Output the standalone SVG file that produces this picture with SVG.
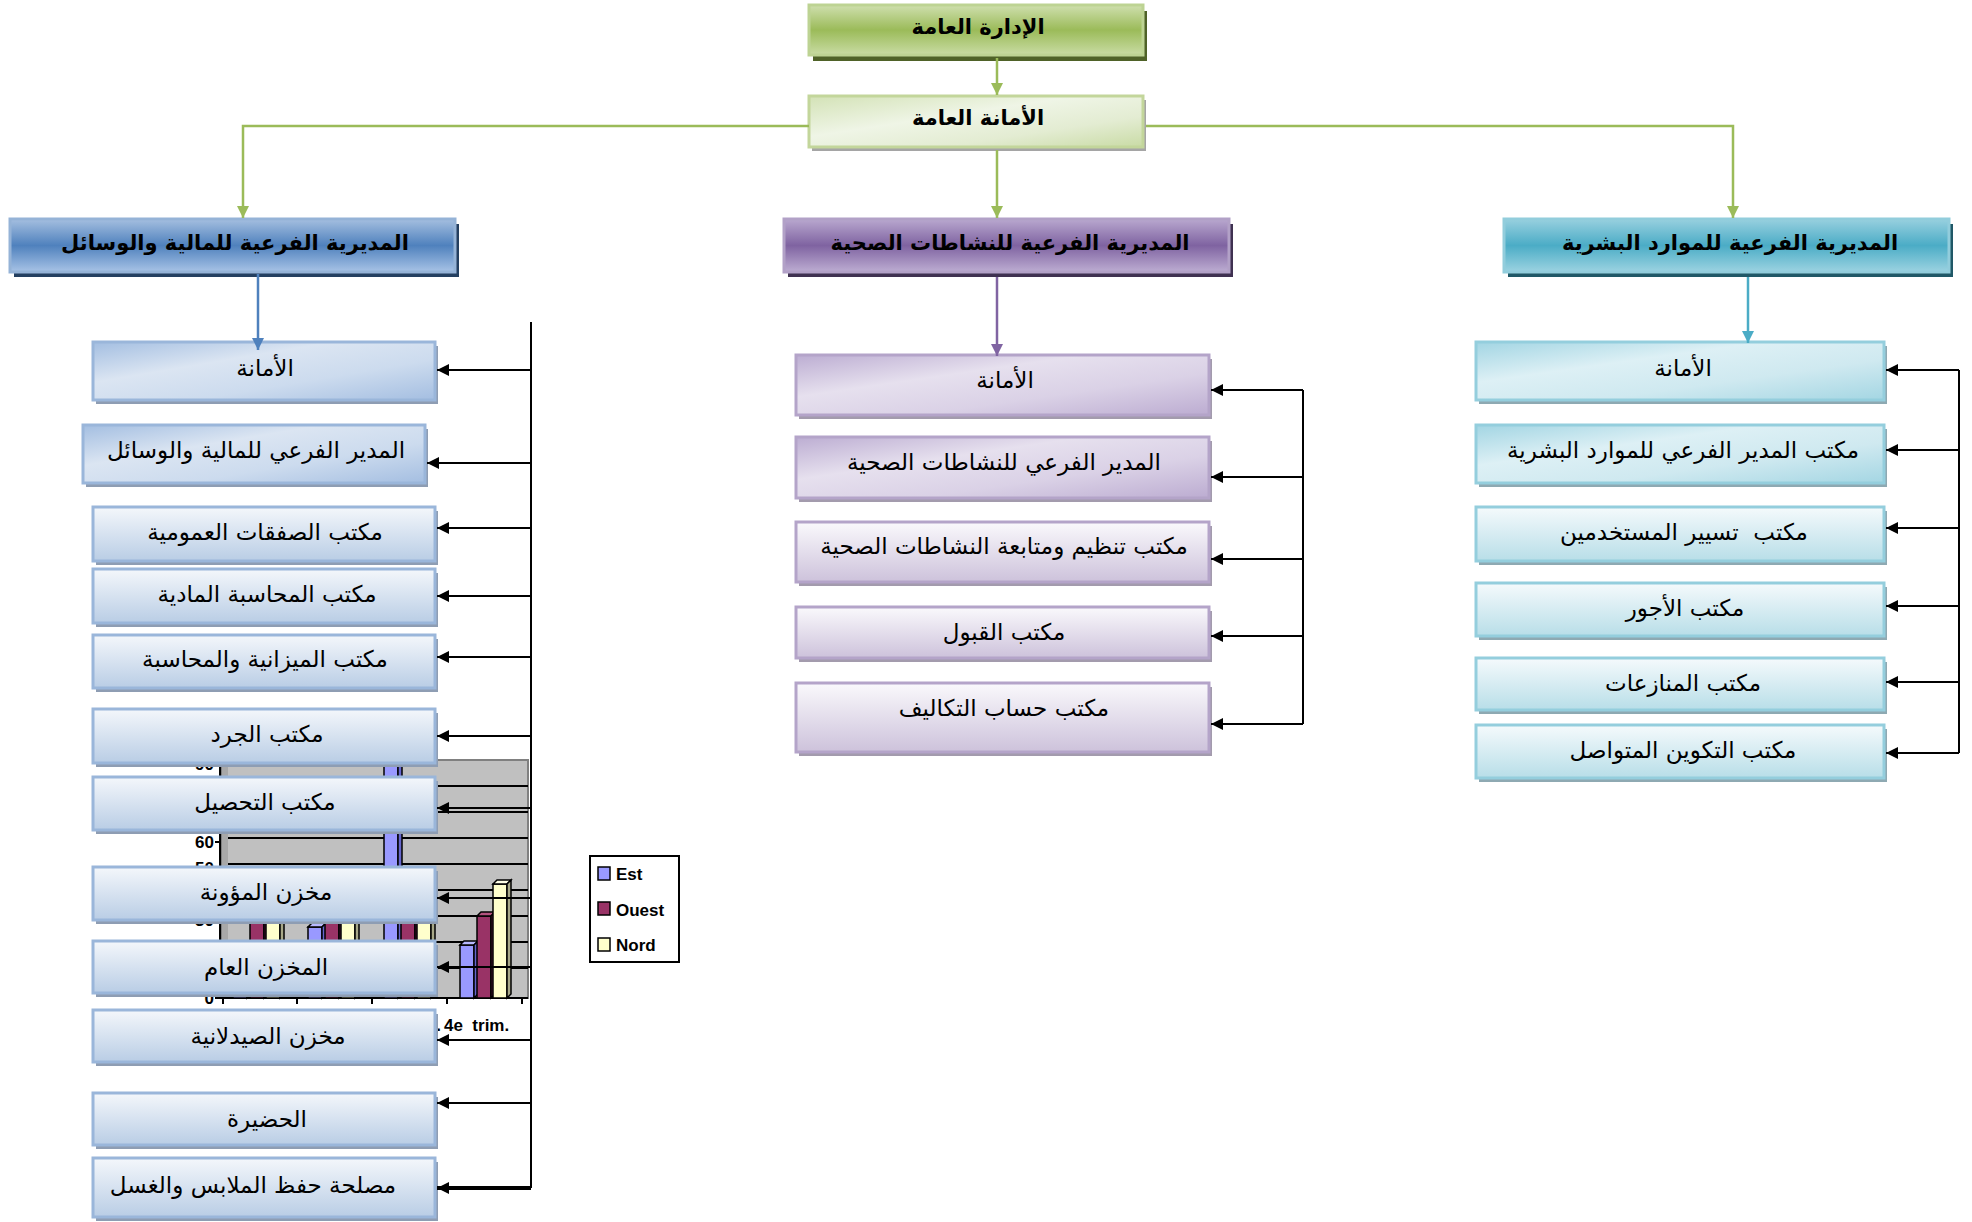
<svg xmlns="http://www.w3.org/2000/svg" width="1972" height="1222" viewBox="0 0 1972 1222">
<defs>
<linearGradient id="gGreenTop" x1="0" y1="0" x2="0" y2="1"><stop offset="0" stop-color="#CFDFAE"/><stop offset="0.5" stop-color="#9BBB59"/><stop offset="1" stop-color="#C9DCA4"/></linearGradient>
<linearGradient id="gGreen2" x1="0" y1="0" x2="1" y2="1"><stop offset="0" stop-color="#D3E2B6"/><stop offset="0.4" stop-color="#EFF5E6"/><stop offset="0.7" stop-color="#E3ECD2"/><stop offset="1" stop-color="#C9DBA5"/></linearGradient>
<linearGradient id="gBlueH" x1="0" y1="0" x2="0" y2="1"><stop offset="0" stop-color="#A5BFE0"/><stop offset="0.5" stop-color="#4F81BD"/><stop offset="1" stop-color="#A8C3E6"/></linearGradient>
<linearGradient id="gPurpH" x1="0" y1="0" x2="0" y2="1"><stop offset="0" stop-color="#B9A8CF"/><stop offset="0.5" stop-color="#7F63A1"/><stop offset="1" stop-color="#BDADD2"/></linearGradient>
<linearGradient id="gTealH" x1="0" y1="0" x2="0" y2="1"><stop offset="0" stop-color="#98D0DF"/><stop offset="0.5" stop-color="#4BACC6"/><stop offset="1" stop-color="#9CD3E1"/></linearGradient>
<linearGradient id="gBlueD" x1="0" y1="0" x2="1" y2="1"><stop offset="0" stop-color="#A3BEE1"/><stop offset="0.35" stop-color="#DBE5F2"/><stop offset="0.65" stop-color="#CCDBEE"/><stop offset="1" stop-color="#A4BEE1"/></linearGradient>
<linearGradient id="gBlueV" x1="0" y1="0" x2="0" y2="1"><stop offset="0" stop-color="#F4F7FB"/><stop offset="1" stop-color="#B9CDE5"/></linearGradient>
<linearGradient id="gPurpD" x1="0" y1="0" x2="1" y2="1"><stop offset="0" stop-color="#BCADD2"/><stop offset="0.35" stop-color="#E6E0EE"/><stop offset="0.65" stop-color="#DAD1E6"/><stop offset="1" stop-color="#BCACD1"/></linearGradient>
<linearGradient id="gPurpV" x1="0" y1="0" x2="0" y2="1"><stop offset="0" stop-color="#FAF9FC"/><stop offset="1" stop-color="#CDC2DB"/></linearGradient>
<linearGradient id="gTealD" x1="0" y1="0" x2="1" y2="1"><stop offset="0" stop-color="#A2D5E3"/><stop offset="0.35" stop-color="#DDF0F5"/><stop offset="0.65" stop-color="#CFE9F0"/><stop offset="1" stop-color="#A4D6E3"/></linearGradient>
<linearGradient id="gTealV" x1="0" y1="0" x2="0" y2="1"><stop offset="0" stop-color="#F5FAFC"/><stop offset="1" stop-color="#B8DEE8"/></linearGradient>
<marker id="aK" markerUnits="userSpaceOnUse" markerWidth="12" markerHeight="12" refX="12" refY="6" orient="auto"><path d="M0,0 L12,6 L0,12 Z" fill="#000"/></marker>
<marker id="aG" markerUnits="userSpaceOnUse" markerWidth="12" markerHeight="12" refX="12" refY="6" orient="auto"><path d="M0,0 L12,6 L0,12 Z" fill="#9BBB59"/></marker>
<marker id="aB" markerUnits="userSpaceOnUse" markerWidth="12" markerHeight="12" refX="12" refY="6" orient="auto"><path d="M0,0 L12,6 L0,12 Z" fill="#4F81BD"/></marker>
<marker id="aP" markerUnits="userSpaceOnUse" markerWidth="12" markerHeight="12" refX="12" refY="6" orient="auto"><path d="M0,0 L12,6 L0,12 Z" fill="#8064A2"/></marker>
<marker id="aT" markerUnits="userSpaceOnUse" markerWidth="12" markerHeight="12" refX="12" refY="6" orient="auto"><path d="M0,0 L12,6 L0,12 Z" fill="#4BACC6"/></marker>
</defs>
<style>
.t{font-family:'DejaVu Sans',sans-serif;font-size:23px;fill:#000;text-anchor:middle;dominant-baseline:central}
.h{font-weight:bold;font-size:21px}
.c{font-family:'Liberation Sans',Arial,sans-serif;font-weight:bold;font-size:17px;fill:#000}
.k{stroke:#000;stroke-width:2;fill:none}
.bx{stroke-width:3}
.sb{fill:#8E9DB3}.sp{fill:#A39BAD}.st{fill:#8EA9B2}
.cb{stroke:#9AB6DA}.cp{stroke:#B4A4C9}.ct{stroke:#94CEDD}
.bar{stroke:#000;stroke-width:1.5}
</style>
<rect width="1972" height="1222" fill="#fff"/>

<g id="chart">
<rect x="222" y="760" width="306" height="238" fill="#C0C0C0" stroke="#808080" stroke-width="2"/>
<rect x="222" y="760" width="6" height="238" fill="#A8A8A8"/>
<g class="k">
<path d="M228,968H528M228,942H528M228,916H528M228,890H528M228,864H528M228,838H528M228,812H528M228,786H528"/>
<path d="M220,760V998H528"/>
<path d="M215,998H220M215,972H220M215,946H220M215,920H220M215,894H220M215,868H220M215,842H220M215,816H220M215,790H220M215,764H220"/>
<path d="M223,998V1004M297,998V1004M372,998V1004M447,998V1004M522,998V1004"/>
</g>
<g class="bar">
<rect x="233" y="945" width="14" height="53" fill="#9999FF"/><polygon points="233,945 237,941 251,941 247,945" fill="#B8B8FF"/><polygon points="247,945 251,941 251,994 247,998" fill="#6666CC"/>
<rect x="250" y="918" width="14" height="80" fill="#993366"/><polygon points="250,918 254,914 268,914 264,918" fill="#B3527F"/><polygon points="264,918 268,914 268,994 264,998" fill="#661F44"/>
<rect x="266" y="879" width="14" height="119" fill="#FFFFCC"/><polygon points="266,879 270,875 284,875 280,879" fill="#FFFFE6"/><polygon points="280,879 284,875 284,994 280,998" fill="#A8A888"/>
<rect x="308" y="927" width="14" height="71" fill="#9999FF"/><polygon points="308,927 312,923 326,923 322,927" fill="#B8B8FF"/><polygon points="322,927 326,923 326,994 322,998" fill="#6666CC"/>
<rect x="325" y="898" width="14" height="100" fill="#993366"/><polygon points="325,898 329,894 343,894 339,898" fill="#B3527F"/><polygon points="339,898 343,894 343,994 339,998" fill="#661F44"/>
<rect x="341" y="876" width="14" height="122" fill="#FFFFCC"/><polygon points="341,876 345,872 359,872 355,876" fill="#FFFFE6"/><polygon points="355,876 359,872 359,994 355,998" fill="#A8A888"/>
<rect x="384" y="764" width="14" height="234" fill="#9999FF"/><polygon points="398,764 402,760 402,994 398,998" fill="#6666CC"/>
<rect x="401" y="908" width="14" height="90" fill="#993366"/><polygon points="401,908 405,904 419,904 415,908" fill="#B3527F"/><polygon points="415,908 419,904 419,994 415,998" fill="#661F44"/>
<rect x="417" y="881" width="14" height="117" fill="#FFFFCC"/><polygon points="417,881 421,877 435,877 431,881" fill="#FFFFE6"/><polygon points="431,881 435,877 435,994 431,998" fill="#A8A888"/>
<rect x="460" y="945" width="14" height="53" fill="#9999FF"/><polygon points="460,945 464,941 478,941 474,945" fill="#B8B8FF"/><polygon points="474,945 478,941 478,994 474,998" fill="#6666CC"/>
<rect x="477" y="916" width="14" height="82" fill="#993366"/><polygon points="477,916 481,912 495,912 491,916" fill="#B3527F"/><polygon points="491,916 495,912 495,994 491,998" fill="#661F44"/>
<rect x="493" y="884" width="14" height="114" fill="#FFFFCC"/><polygon points="493,884 497,880 511,880 507,884" fill="#FFFFE6"/><polygon points="507,884 511,880 511,994 507,998" fill="#A8A888"/>
</g>
<g class="c" text-anchor="end">
<text x="214" y="1004">0</text>
<text x="214" y="952">20</text>
<text x="214" y="926">30</text>
<text x="214" y="874">50</text>
<text x="214" y="848">60</text>
<text x="214" y="770">90</text>
</g>
<text class="c" x="441" y="1031" text-anchor="end">3e trim.</text>
<text class="c" x="444" y="1031" xml:space="preserve">4e  trim.</text>
<g id="legend">
<rect x="590" y="856" width="89" height="106" fill="#fff" stroke="#000" stroke-width="2"/>
<rect x="598" y="867" width="12" height="13" fill="#9999FF" stroke="#000" stroke-width="1.5"/>
<rect x="598" y="902" width="12" height="13" fill="#993366" stroke="#000" stroke-width="1.5"/>
<rect x="598" y="938" width="12" height="13" fill="#FFFFCC" stroke="#000" stroke-width="1.5"/>
<text class="c" x="616" y="880">Est</text>
<text class="c" x="616" y="916">Ouest</text>
<text class="c" x="616" y="951">Nord</text>
</g>
</g>

<g id="n-top"><rect x="813" y="11" width="334" height="50" fill="#4F6228"/><rect x="809" y="5" width="334" height="50" fill="url(#gGreenTop)" stroke="#BDD393" class="bx"/><text class="t h" x="978" y="27">الإدارة العامة</text></g>
<g id="n-sec"><rect x="812" y="100" width="334" height="51" fill="#A5A5A5"/><rect x="809" y="96" width="334" height="51" fill="url(#gGreen2)" stroke="#C3D69B" class="bx"/><text class="t h" x="978" y="118">الأمانة العامة</text></g>

<g id="d-fin"><rect x="14" y="224" width="445" height="53" fill="#243F60"/><rect x="10" y="219" width="445" height="53" fill="url(#gBlueH)" stroke="#95B3D7" class="bx"/><text class="t h" x="235" y="243">المديرية الفرعية للمالية والوسائل</text></g>
<g id="d-san"><rect x="788" y="224" width="445" height="53" fill="#3F3151"/><rect x="784" y="219" width="445" height="53" fill="url(#gPurpH)" stroke="#B2A1C7" class="bx"/><text class="t h" x="1010" y="243">المديرية الفرعية للنشاطات الصحية</text></g>
<g id="d-rh"><rect x="1508" y="224" width="445" height="53" fill="#205867"/><rect x="1504" y="219" width="445" height="53" fill="url(#gTealH)" stroke="#92CDDC" class="bx"/><text class="t h" x="1730" y="243">المديرية الفرعية للموارد البشرية</text></g>

<g id="f1"><rect x="96" y="346" width="342" height="58" class="sb"/><rect x="93" y="342" width="342" height="58" fill="url(#gBlueD)" class="bx cb"/><text class="t" x="265" y="368">الأمانة</text></g>
<g id="f2"><rect x="86" y="429" width="342" height="58" class="sb"/><rect x="83" y="425" width="342" height="58" fill="url(#gBlueD)" class="bx cb"/><text class="t" x="256" y="450">المدير الفرعي للمالية والوسائل</text></g>
<g id="f3"><rect x="96" y="511" width="342" height="54" class="sb"/><rect x="93" y="507" width="342" height="54" fill="url(#gBlueV)" class="bx cb"/><text class="t" x="265" y="532">مكتب الصفقات العمومية</text></g>
<g id="f4"><rect x="96" y="573" width="342" height="54" class="sb"/><rect x="93" y="569" width="342" height="54" fill="url(#gBlueV)" class="bx cb"/><text class="t" x="267" y="594">مكتب المحاسبة المادية</text></g>
<g id="f5"><rect x="96" y="639" width="342" height="53" class="sb"/><rect x="93" y="635" width="342" height="53" fill="url(#gBlueV)" class="bx cb"/><text class="t" x="265" y="659">مكتب الميزانية والمحاسبة</text></g>
<g id="f6"><rect x="96" y="713" width="342" height="54" class="sb"/><rect x="93" y="709" width="342" height="54" fill="url(#gBlueV)" class="bx cb"/><text class="t" x="267" y="734">مكتب الجرد</text></g>
<g id="f7"><rect x="96" y="781" width="342" height="53" class="sb"/><rect x="93" y="777" width="342" height="53" fill="url(#gBlueV)" class="bx cb"/><text class="t" x="265" y="802">مكتب التحصيل</text></g>
<g id="f8"><rect x="96" y="871" width="342" height="53" class="sb"/><rect x="93" y="867" width="342" height="53" fill="url(#gBlueV)" class="bx cb"/><text class="t" x="266" y="892">مخزن المؤونة</text></g>
<g id="f9"><rect x="96" y="945" width="342" height="52" class="sb"/><rect x="93" y="941" width="342" height="52" fill="url(#gBlueV)" class="bx cb"/><text class="t" x="266" y="967">المخزن العام</text></g>
<g id="f10"><rect x="96" y="1014" width="342" height="52" class="sb"/><rect x="93" y="1010" width="342" height="52" fill="url(#gBlueV)" class="bx cb"/><text class="t" x="268" y="1036">مخزن الصيدلانية</text></g>
<g id="f11"><rect x="96" y="1097" width="342" height="52" class="sb"/><rect x="93" y="1093" width="342" height="52" fill="url(#gBlueV)" class="bx cb"/><text class="t" x="267" y="1119">الحضيرة</text></g>
<g id="f12"><rect x="96" y="1162" width="342" height="59" class="sb"/><rect x="93" y="1158" width="342" height="59" fill="url(#gBlueV)" class="bx cb"/><text class="t" x="253" y="1185">مصلحة حفظ الملابس والغسل</text></g>

<g id="s1"><rect x="799" y="359" width="413" height="60" class="sp"/><rect x="796" y="355" width="413" height="60" fill="url(#gPurpD)" class="bx cp"/><text class="t" x="1005" y="380">الأمانة</text></g>
<g id="s2"><rect x="799" y="441" width="413" height="61" class="sp"/><rect x="796" y="437" width="413" height="61" fill="url(#gPurpD)" class="bx cp"/><text class="t" x="1004" y="462">المدير الفرعي للنشاطات الصحية</text></g>
<g id="s3"><rect x="799" y="526" width="413" height="60" class="sp"/><rect x="796" y="522" width="413" height="60" fill="url(#gPurpV)" class="bx cp"/><text class="t" x="1004" y="546">مكتب تنظيم ومتابعة النشاطات الصحية</text></g>
<g id="s4"><rect x="799" y="611" width="413" height="51" class="sp"/><rect x="796" y="607" width="413" height="51" fill="url(#gPurpV)" class="bx cp"/><text class="t" x="1004" y="632">مكتب القبول</text></g>
<g id="s5"><rect x="799" y="687" width="413" height="69" class="sp"/><rect x="796" y="683" width="413" height="69" fill="url(#gPurpV)" class="bx cp"/><text class="t" x="1004" y="708">مكتب حساب التكاليف</text></g>

<g id="r1"><rect x="1479" y="346" width="408" height="58" class="st"/><rect x="1476" y="342" width="408" height="58" fill="url(#gTealD)" class="bx ct"/><text class="t" x="1683" y="368">الأمانة</text></g>
<g id="r2"><rect x="1479" y="429" width="408" height="58" class="st"/><rect x="1476" y="425" width="408" height="58" fill="url(#gTealD)" class="bx ct"/><text class="t" x="1683" y="450">مكتب المدير الفرعي للموارد البشرية</text></g>
<g id="r3"><rect x="1479" y="511" width="408" height="54" class="st"/><rect x="1476" y="507" width="408" height="54" fill="url(#gTealV)" class="bx ct"/><text class="t" x="1684" y="532" xml:space="preserve">مكتب  تسيير المستخدمين</text></g>
<g id="r4"><rect x="1479" y="587" width="408" height="53" class="st"/><rect x="1476" y="583" width="408" height="53" fill="url(#gTealV)" class="bx ct"/><text class="t" x="1685" y="608">مكتب الأجور</text></g>
<g id="r5"><rect x="1479" y="662" width="408" height="52" class="st"/><rect x="1476" y="658" width="408" height="52" fill="url(#gTealV)" class="bx ct"/><text class="t" x="1683" y="683">مكتب المنازعات</text></g>
<g id="r6"><rect x="1479" y="729" width="408" height="53" class="st"/><rect x="1476" y="725" width="408" height="53" fill="url(#gTealV)" class="bx ct"/><text class="t" x="1683" y="750">مكتب التكوين المتواصل</text></g>

<g id="connectors">
<g fill="none" stroke="#9BBB59" stroke-width="2.5">
<path d="M997,58V95" marker-end="url(#aG)"/>
<path d="M809,126H243V218" marker-end="url(#aG)"/>
<path d="M1146,126H1733V218" marker-end="url(#aG)"/>
<path d="M997,150V218" marker-end="url(#aG)"/>
</g>
<path d="M258,274V350" fill="none" stroke="#4F81BD" stroke-width="2.5" marker-end="url(#aB)"/>
<path d="M997,277V356" fill="none" stroke="#8064A2" stroke-width="2.5" marker-end="url(#aP)"/>
<path d="M1748,277V343" fill="none" stroke="#4BACC6" stroke-width="2.5" marker-end="url(#aT)"/>
<g class="k">
<path d="M531,322V1188"/>
<path d="M531,370H437" marker-end="url(#aK)"/>
<path d="M531,463H427" marker-end="url(#aK)"/>
<path d="M531,528H437" marker-end="url(#aK)"/>
<path d="M531,596H437" marker-end="url(#aK)"/>
<path d="M531,657H437" marker-end="url(#aK)"/>
<path d="M531,736H437" marker-end="url(#aK)"/>
<path d="M531,808H437" marker-end="url(#aK)"/>
<path d="M531,898H437" marker-end="url(#aK)"/>
<path d="M531,967H437" marker-end="url(#aK)"/>
<path d="M531,1040H437" marker-end="url(#aK)"/>
<path d="M531,1103H437" marker-end="url(#aK)"/>
<path d="M531,1188H437" stroke-width="4" marker-end="url(#aK)"/>
<path d="M1303,390V724"/>
<path d="M1303,390H1211" marker-end="url(#aK)"/>
<path d="M1303,477H1211" marker-end="url(#aK)"/>
<path d="M1303,559H1211" marker-end="url(#aK)"/>
<path d="M1303,636H1211" marker-end="url(#aK)"/>
<path d="M1303,724H1211" marker-end="url(#aK)"/>
<path d="M1959,370V753"/>
<path d="M1959,370H1886" marker-end="url(#aK)"/>
<path d="M1959,450H1886" marker-end="url(#aK)"/>
<path d="M1959,528H1886" marker-end="url(#aK)"/>
<path d="M1959,606H1886" marker-end="url(#aK)"/>
<path d="M1959,682H1886" marker-end="url(#aK)"/>
<path d="M1959,753H1886" marker-end="url(#aK)"/>
</g>
</g>
</svg>
